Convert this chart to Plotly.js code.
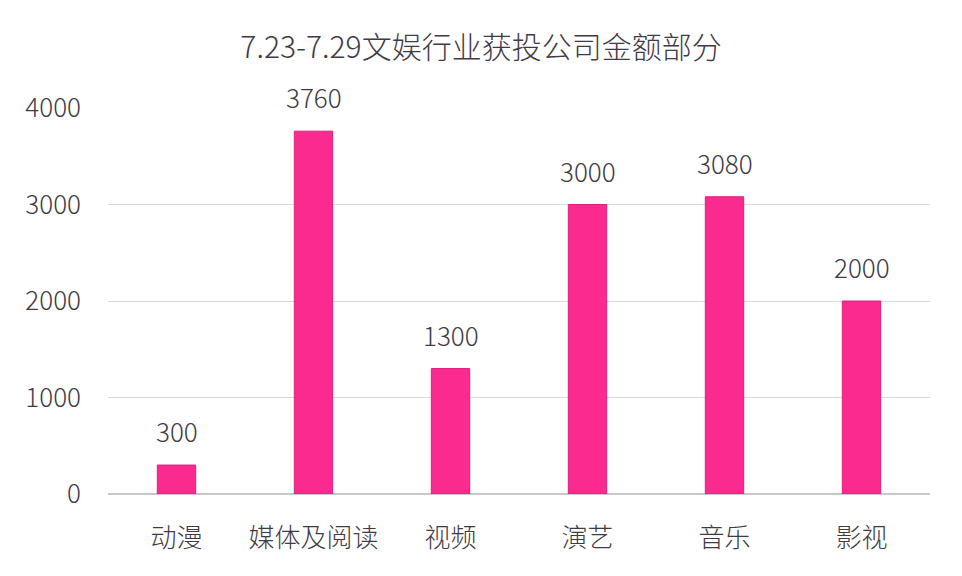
<!DOCTYPE html>
<html><head><meta charset="utf-8">
<script src="https://cdn.plot.ly/plotly-3.0.1.min.js"></script>
<style>html,body{margin:0;padding:0;background:#fff}</style>
</head><body><div id="chart" style="width:962px;height:576px"></div>
<script>
const categories = ['动漫','媒体及阅读','视频','演艺','音乐','影视'];
const amounts = [300, 3760, 1300, 3000, 3080, 2000];
const tickValues = [0, 1000, 2000, 3000, 4000];
const tickLabels = ['0', '1000', '2000', '3000', '4000'];

const font = '"Noto Sans CJK SC", "Noto Sans", sans-serif';
const textColor = '#3f3a45';

const annotations = categories.map((c, i) => ({
  x: c, y: amounts[i], xref: 'x', yref: 'y',
  text: String(amounts[i]), showarrow: false,
  yanchor: 'bottom', yshift: 14,
  font: {family: font, size: 26, color: textColor, weight: 300}
}));

Plotly.newPlot('chart', [{
  type: 'bar', x: categories, y: amounts,
  marker: {color: '#fa2a8e', line: {color: '#e01f7c', width: 1}},
  hoverinfo: 'none'
}], {
  width: 962, height: 576,
  margin: {l: 108, r: 32, t: 108, b: 82},
  paper_bgcolor: '#fff', plot_bgcolor: '#fff',
  bargap: 0.72,
  title: {text: '7.23-7.29文娱行业获投公司金额部分', x: 0.5, xanchor: 'center', y: 0.918, yanchor: 'middle',
    font: {family: font, size: 30, color: textColor, weight: 300}},
  xaxis: {type: 'category', showgrid: false, zeroline: false, showline: false, ticks: '',
    tickfont: {family: font, size: 26, color: textColor, weight: 300}, ticklabelstandoff: 26},
  yaxis: {range: [0, 4000], tickvals: tickValues, ticktext: tickLabels, showgrid: true,
    gridcolor: '#d9d9d9', gridwidth: 1, zeroline: true, zerolinecolor: '#c8c8c8', zerolinewidth: 1.5,
    showline: false, ticks: '', ticklabelstandoff: 26,
    tickfont: {family: font, size: 26, color: textColor, weight: 300}},
  annotations: annotations,
  showlegend: false
}, {staticPlot: true});
</script></body></html>
